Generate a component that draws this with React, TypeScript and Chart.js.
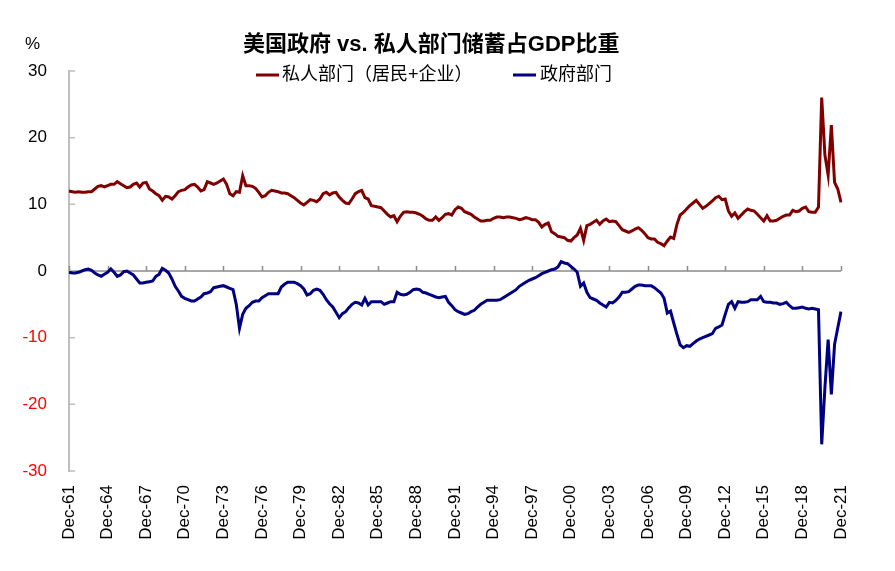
import React, { useEffect, useRef } from 'react';
import { Chart, registerables } from 'chart.js';

Chart.register(...registerables);

const FONT = '"Liberation Sans", Arial, "Noto Sans CJK SC", sans-serif';

const chartTitle = '美国政府 vs. 私人部门储蓄占GDP比重';
const unitLabel = '%';
const privateName = '私人部门（居民+企业）';
const govName = '政府部门';
const privateColor = '#800000';
const govColor = '#000080';

// Quarterly, Dec-61 .. Dec-21 (each row: Mar, Jun, Sep, Dec of one year)
const privateSaving = [
  12.0,
  11.9, 11.8, 11.9, 11.8, // 1962
  11.8, 11.9, 11.9, 12.3, // 1963
  12.7, 12.8, 12.6, 12.8, // 1964
  13.0, 13.0, 13.4, 13.1, // 1965
  12.8, 12.5, 12.6, 13.0, // 1966
  13.2, 12.6, 13.2, 13.3, // 1967
  12.3, 12.0, 11.6, 11.3, // 1968
  10.6, 11.2, 11.1, 10.8, // 1969
  11.3, 11.9, 12.1, 12.2, // 1970
  12.6, 12.9, 13.0, 12.6, // 1971
  12.0, 12.2, 13.4, 13.2, // 1972
  13.0, 13.2, 13.5, 13.8, // 1973
  13.0, 11.6, 11.3, 11.9, // 1974
  11.8, 14.3, 12.8, 12.8, // 1975
  12.7, 12.4, 11.8, 11.1, // 1976
  11.3, 11.8, 12.1, 12.0, // 1977
  11.9, 11.7, 11.7, 11.6, // 1978
  11.3, 11.0, 10.6, 10.2, // 1979
  9.9, 10.3, 10.7, 10.6, // 1980
  10.4, 10.8, 11.6, 11.8, // 1981
  11.4, 11.7, 11.8, 11.1, // 1982
  10.6, 10.2, 10.1, 10.8, // 1983
  11.6, 11.9, 12.1, 11.0, // 1984
  10.8, 9.8, 9.7, 9.6, // 1985
  9.5, 9.0, 8.5, 8.1, // 1986
  8.3, 7.4, 8.2, 8.8, // 1987
  8.9, 8.8, 8.8, 8.7, // 1988
  8.5, 8.2, 7.8, 7.6, // 1989
  7.6, 8.1, 7.6, 8.0, // 1990
  8.5, 8.6, 8.4, 9.2, // 1991
  9.6, 9.4, 8.9, 8.7, // 1992
  8.5, 8.1, 7.8, 7.5, // 1993
  7.5, 7.6, 7.6, 7.9, // 1994
  8.1, 8.1, 8.0, 8.1, // 1995
  8.1, 8.0, 7.9, 7.7, // 1996
  7.8, 8.0, 7.9, 7.7, // 1997
  7.7, 7.3, 6.6, 7.0, // 1998
  7.2, 5.9, 5.6, 5.2, // 1999
  5.1, 5.0, 4.6, 4.5, // 2000
  5.0, 5.4, 6.4, 4.6, // 2001
  6.8, 7.0, 7.3, 7.6, // 2002
  7.0, 7.5, 7.8, 7.4, // 2003
  7.5, 7.4, 6.8, 6.2, // 2004
  6.0, 5.8, 6.0, 6.3, // 2005
  6.5, 6.1, 5.6, 5.0, // 2006
  4.8, 4.8, 4.3, 4.1, // 2007
  3.8, 4.5, 5.1, 4.9, // 2008
  7.0, 8.4, 8.8, 9.3, // 2009
  9.8, 10.2, 10.6, 10.0, // 2010
  9.4, 9.7, 10.1, 10.5, // 2011
  11.0, 11.2, 10.7, 10.8, // 2012
  9.0, 8.2, 8.7, 7.9, // 2013
  8.4, 8.9, 9.3, 9.1, // 2014
  9.0, 8.5, 8.0, 7.5, // 2015
  8.3, 7.5, 7.5, 7.6, // 2016
  7.9, 8.2, 8.4, 8.4, // 2017
  9.1, 8.9, 9.0, 9.4, // 2018
  9.6, 8.9, 8.8, 8.8, // 2019
  9.6, 26.0, 17.4, 14.4, // 2020
  21.9, 13.3, 12.3, 10.3, // 2021
];

const govSaving = [
  -0.2,
  -0.3, -0.3, -0.2, 0.0, // 1962
  0.2, 0.3, 0.1, -0.3, // 1963
  -0.6, -0.8, -0.5, -0.2, // 1964
  0.3, -0.2, -0.8, -0.6, // 1965
  -0.1, 0.0, -0.3, -0.6, // 1966
  -1.2, -1.8, -1.8, -1.7, // 1967
  -1.6, -1.5, -0.8, -0.5, // 1968
  0.4, 0.1, -0.3, -1.2, // 1969
  -2.3, -3.0, -3.8, -4.1, // 1970
  -4.3, -4.5, -4.5, -4.2, // 1971
  -3.9, -3.4, -3.3, -3.1, // 1972
  -2.5, -2.4, -2.3, -2.2, // 1973
  -2.4, -2.6, -2.8, -5.0, // 1974
  -8.6, -6.5, -5.6, -5.2, // 1975
  -4.7, -4.5, -4.5, -4.0, // 1976
  -3.7, -3.4, -3.4, -3.4, // 1977
  -3.4, -2.4, -2.0, -1.7, // 1978
  -1.7, -1.7, -1.9, -2.2, // 1979
  -2.7, -3.6, -3.4, -2.9, // 1980
  -2.7, -2.9, -3.5, -4.3, // 1981
  -4.9, -5.4, -6.2, -7.0, // 1982
  -6.4, -6.1, -5.5, -5.0, // 1983
  -4.7, -4.8, -5.1, -4.1, // 1984
  -5.1, -4.6, -4.6, -4.6, // 1985
  -4.6, -5.0, -4.8, -4.6, // 1986
  -4.6, -3.2, -3.5, -3.6, // 1987
  -3.5, -3.2, -2.8, -2.7, // 1988
  -2.8, -3.2, -3.3, -3.5, // 1989
  -3.7, -3.9, -4.0, -3.9, // 1990
  -3.8, -4.7, -5.2, -5.8, // 1991
  -6.1, -6.3, -6.5, -6.4, // 1992
  -6.1, -5.9, -5.4, -5.0, // 1993
  -4.7, -4.4, -4.4, -4.4, // 1994
  -4.4, -4.3, -4.0, -3.7, // 1995
  -3.4, -3.1, -2.8, -2.3, // 1996
  -2.0, -1.7, -1.4, -1.2, // 1997
  -1.0, -0.7, -0.4, -0.2, // 1998
  0.0, 0.2, 0.3, 0.6, // 1999
  1.4, 1.2, 1.1, 0.7, // 2000
  0.3, -0.2, -2.3, -1.8, // 2001
  -3.2, -4.0, -4.2, -4.4, // 2002
  -4.8, -5.1, -5.4, -4.7, // 2003
  -4.8, -4.4, -3.9, -3.2, // 2004
  -3.2, -3.1, -2.7, -2.3, // 2005
  -2.1, -2.1, -2.2, -2.2, // 2006
  -2.2, -2.5, -2.9, -3.3, // 2007
  -4.1, -6.3, -6.0, -7.8, // 2008
  -9.5, -11.1, -11.5, -11.2, // 2009
  -11.3, -10.9, -10.5, -10.2, // 2010
  -10.0, -9.8, -9.6, -9.4, // 2011
  -8.6, -8.4, -8.1, -6.5, // 2012
  -5.0, -4.6, -5.6, -4.6, // 2013
  -4.7, -4.7, -4.6, -4.3, // 2014
  -4.3, -4.3, -3.8, -4.6, // 2015
  -4.7, -4.7, -4.8, -4.8, // 2016
  -5.0, -4.9, -4.7, -5.2, // 2017
  -5.6, -5.6, -5.5, -5.4, // 2018
  -5.6, -5.7, -5.6, -5.7, // 2019
  -5.8, -26.0, -17.5, -10.3, // 2020
  -18.5, -11.0, -8.5, -6.1, // 2021
];

const quarterMonths = ['Mar', 'Jun', 'Sep', 'Dec'];
const categories: string[] = ['Dec-61'];
for (let yr = 1962; yr <= 2021; yr++) {
  for (const m of quarterMonths) categories.push(`${m}-${String(yr % 100).padStart(2, '0')}`);
}
const labelEvery = 12;
const yTickValues = [30, 20, 10, 0, -10, -20, -30];

const decorPlugin = {
  id: 'decor',
  beforeDatasetsDraw(chart: any) {
    const { ctx, chartArea, scales } = chart;
    const xs = scales.x;
    const ys = scales.y;
    const y0 = ys.getPixelForValue(0);
    ctx.save();
    ctx.strokeStyle = '#8c8c8c';
    ctx.lineWidth = 1.5;
    ctx.beginPath();
    ctx.moveTo(chartArea.left, y0);
    ctx.lineTo(chartArea.right, y0);
    for (let i = 0; i < categories.length; i += labelEvery) {
      const px = Math.round(xs.getPixelForValue(i)) + 0.5;
      ctx.moveTo(px, y0);
      ctx.lineTo(px, y0 - 5);
    }
    ctx.stroke();
    ctx.strokeStyle = '#bfbfbf';
    ctx.lineWidth = 1.5;
    ctx.beginPath();
    for (const v of yTickValues) {
      const py = ys.getPixelForValue(v);
      ctx.moveTo(chartArea.left, py);
      ctx.lineTo(chartArea.left + 6, py);
    }
    ctx.stroke();
    ctx.restore();
  },
  afterDraw(chart: any) {
    const { ctx } = chart;
    ctx.save();
    ctx.fillStyle = '#000';
    ctx.textBaseline = 'middle';
    ctx.font = `bold 22px ${FONT}`;
    ctx.textAlign = 'left';
    ctx.fillText(chartTitle, 243, 45);
    ctx.font = `17px ${FONT}`;
    ctx.fillText(unitLabel, 25, 44);
    // legend
    const ly = 75;
    ctx.font = `18px ${FONT}`;
    ctx.lineWidth = 3;
    ctx.strokeStyle = privateColor;
    ctx.beginPath();
    ctx.moveTo(256, ly);
    ctx.lineTo(279, ly);
    ctx.stroke();
    ctx.fillText(privateName, 282, ly);
    ctx.strokeStyle = govColor;
    ctx.beginPath();
    ctx.moveTo(513, ly);
    ctx.lineTo(536, ly);
    ctx.stroke();
    ctx.fillText(govName, 540, ly);
    ctx.restore();
  },
};

export default function App() {
  const ref = useRef<HTMLCanvasElement | null>(null);
  useEffect(() => {
    document.body.style.margin = '0';
    const canvas = ref.current;
    if (!canvas) return;
    const chart = new Chart(canvas, {
      type: 'line',
      data: {
        labels: categories,
        datasets: [
          {
            label: privateName,
            data: privateSaving,
            borderColor: privateColor,
            backgroundColor: privateColor,
            borderWidth: 3,
            pointRadius: 0,
            tension: 0,
          },
          {
            label: govName,
            data: govSaving,
            borderColor: govColor,
            backgroundColor: govColor,
            borderWidth: 3,
            pointRadius: 0,
            tension: 0,
          },
        ],
      },
      options: {
        responsive: false,
        animation: false,
        events: [],
        layout: { padding: { top: 71, right: 54, left: 0, bottom: 0 } },
        plugins: {
          legend: { display: false },
          title: { display: false },
          tooltip: { enabled: false },
        },
        scales: {
          x: {
            type: 'category',
            offset: false,
            grid: { display: false, drawTicks: false },
            border: { display: false },
            ticks: {
              autoSkip: false,
              minRotation: 90,
              maxRotation: 90,
              padding: 14,
              color: '#000',
              font: { family: FONT, size: 17 },
              callback: (_v: any, i: number) => (i % labelEvery === 0 ? categories[i] : ''),
            },
            afterFit: (s: any) => {
              s.height = 100;
            },
          },
          y: {
            min: -30,
            max: 30,
            ticks: {
              stepSize: 10,
              padding: 22,
              font: { family: FONT, size: 17 },
              color: (c: any) => (c.tick && c.tick.value < 0 ? '#FF0000' : '#000000'),
            },
            grid: { display: false, drawTicks: false },
            border: { display: true, color: '#bfbfbf', width: 2 },
            afterFit: (s: any) => {
              s.width = 69;
            },
          },
        },
      },
      plugins: [decorPlugin],
    } as any);
    return () => chart.destroy();
  }, []);
  return <canvas ref={ref} width={895} height={571} style={{ display: 'block' }} />;
}
